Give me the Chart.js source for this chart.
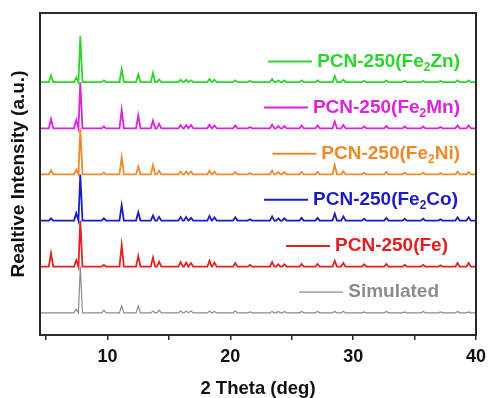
<!DOCTYPE html>
<html>
<head>
<meta charset="utf-8">
<script src="https://cdn.jsdelivr.net/npm/chart.js@4"></script>
<style>
  html, body { margin: 0; padding: 0; background: #fff; }
  #wrap { width: 488px; height: 398px; }
</style>
</head>
<body>
<div id="wrap"><canvas id="xrd"></canvas></div>
<script>
// Peak positions (2 theta, deg) shared by all patterns
const twoTheta = [5.4, 7.45, 7.78, 9.7, 11.15, 12.5, 13.7, 14.2, 15.95, 16.4, 16.8, 18.3, 18.7, 20.4, 21.6,
                  23.4, 23.9, 24.4, 25.8, 27.1, 28.5, 29.2, 30.9, 32.7, 34.2, 35.7, 37.1, 38.5, 39.4];

// Peak heights (main peak = 100)
const simulated = [0, 8, 100, 6, 15, 15, 4, 6, 4, 4, 4, 4, 3, 4, 2, 3, 3, 3, 3, 3, 3, 3, 2, 3, 2, 3, 2, 3, 2];
const fe   = [29, 14, 100, 4, 47, 23, 20, 11, 10, 9, 8, 13, 9, 8, 4, 10, 5, 5, 6, 6, 13, 8, 5, 6, 4, 4, 3, 8, 8];
const fe2Co = [5, 16, 100, 5, 33, 18, 11, 8, 8, 8, 6, 10, 7, 7, 3, 9, 5, 5, 6, 6, 15, 9, 4, 6, 4, 4, 3, 7, 7];
const fe2Ni = [9, 10, 100, 4, 37, 17, 20, 8, 6, 6, 6, 8, 6, 5, 3, 8, 5, 5, 5, 5, 20, 7, 4, 5, 4, 4, 3, 6, 5];
const fe2Mn = [20, 18, 100, 4, 40, 28, 17, 10, 7, 7, 7, 8, 6, 6, 3, 8, 5, 5, 6, 6, 15, 7, 4, 5, 4, 4, 3, 6, 6];
const fe2Zn = [15, 10, 100, 4, 28, 17, 20, 6, 5, 5, 4, 7, 5, 4, 3, 7, 4, 4, 4, 4, 14, 5, 3, 4, 3, 3, 3, 4, 4];

const seriesLabels = ['Simulated', 'PCN-250(Fe)', 'PCN-250(Fe₂Co)', 'PCN-250(Fe₂Ni)', 'PCN-250(Fe₂Mn)', 'PCN-250(Fe₂Zn)'];
const seriesValues = [simulated, fe, fe2Co, fe2Ni, fe2Mn, fe2Zn];
const offsets = [0, 100, 200, 300, 400, 500];
const xTicks = [10, 20, 30, 40];

const colors = ['#8c8c8c', '#e3201f', '#1c1cc6', '#f08a28', '#dc22dc', '#2bd52b'];
const lineWidths = [1.2, 1.8, 1.8, 1.8, 1.8, 1.8];
const legendShift = [21, 12, 2, 0, 0, 0];
const FONT = "'Liberation Sans', Arial, sans-serif";
const X_MIN = 4.5, X_MAX = 40, HALF = 0.18;

// Build each pattern as narrow peaks on a flat baseline
function buildPattern(heights, off) {
    const pts = [{ x: X_MIN, y: off }];
    twoTheta.forEach((p, i) => {
        if (!heights[i]) return;
        pts.push({ x: p - HALF, y: off });
        pts.push({ x: p, y: off + heights[i] });
        pts.push({ x: p + HALF, y: off });
    });
    pts.push({ x: X_MAX, y: off });
    return pts;
}

const datasets = seriesValues.map((vals, i) => ({
    label: seriesLabels[i],
    data: buildPattern(vals, offsets[i]),
    borderColor: colors[i],
    borderWidth: lineWidths[i],
    pointRadius: 0,
    tension: 0,
    fill: false,
}));

// Labels drawn next to each trace, with subscripted 2
const traceLabels = {
    id: 'traceLabels',
    afterDatasetsDraw(chart) {
        const { ctx, chartArea, scales } = chart;
        ctx.save();
        seriesLabels.forEach((label, i) => {
            const y = scales.y.getPixelForValue(offsets[i] + 45);
            const right = chartArea.right - 16 - legendShift[i];
            const parts = label.split('₂');
            const mainFont = 'bold 19px ' + FONT;
            const subFont = 'bold 12px ' + FONT;
            let total = 0;
            parts.forEach((p, k) => {
                ctx.font = mainFont;
                total += ctx.measureText(p).width;
                if (k < parts.length - 1) {
                    ctx.font = subFont;
                    total += ctx.measureText('2').width;
                }
            });
            let x = right - total;
            // line sample
            ctx.strokeStyle = colors[i];
            ctx.lineWidth = i === 0 ? 1.2 : 2;
            ctx.beginPath();
            ctx.moveTo(x - 49, y);
            ctx.lineTo(x - 5, y);
            ctx.stroke();
            ctx.fillStyle = colors[i];
            ctx.textBaseline = 'middle';
            ctx.textAlign = 'left';
            parts.forEach((p, k) => {
                ctx.font = mainFont;
                ctx.fillText(p, x, y);
                x += ctx.measureText(p).width;
                if (k < parts.length - 1) {
                    ctx.font = subFont;
                    ctx.fillText('2', x, y + 6);
                    x += ctx.measureText('2').width;
                }
            });
        });
        ctx.restore();
    }
};

// Box around the plot
const frame = {
    id: 'frame',
    afterDraw(chart) {
        const { ctx, chartArea } = chart;
        ctx.save();
        ctx.strokeStyle = '#2a2a2a';
        ctx.lineWidth = 2;
        ctx.strokeRect(chartArea.left, chartArea.top, chartArea.right - chartArea.left, chartArea.bottom - chartArea.top);
        ctx.restore();
    }
};

new Chart(document.getElementById('xrd'), {
    type: 'line',
    data: { datasets },
    plugins: [traceLabels, frame],
    options: {
        responsive: true,
        maintainAspectRatio: false,
        animation: false,
        layout: { padding: { top: 13, right: 12, left: 0, bottom: 0 } },
        plugins: {
            legend: { display: false },
            tooltip: { enabled: false },
        },
        scales: {
            x: {
                type: 'linear',
                min: X_MIN,
                max: X_MAX,
                afterFit: (s) => { s.height = 63; s.paddingLeft = 0; s.paddingRight = 8; },
                border: { display: false },
                grid: {
                    drawOnChartArea: false,
                    drawTicks: true,
                    tickLength: 5,
                    color: '#2a2a2a',
                    lineWidth: 1.5,
                },
                ticks: {
                    stepSize: 5,
                    includeBounds: false,
                    autoSkip: false,
                    maxRotation: 0,
                    padding: 6,
                    color: '#111',
                    font: { family: FONT, size: 18, weight: 'bold' },
                    callback: (v) => xTicks.includes(v) ? String(v) : '',
                },
                title: {
                    display: true,
                    text: '2 Theta (deg)',
                    color: '#111',
                    font: { family: FONT, size: 18.5, weight: 'bold', lineHeight: 1 },
                    padding: { top: 0, bottom: 0 },
                },
            },
            y: {
                min: -48,
                max: 650,
                afterFit: (s) => { s.width = 40; },
                border: { display: false },
                grid: { display: false },
                ticks: { display: false },
                title: {
                    display: true,
                    text: 'Realtive Intensity (a.u.)',
                    color: '#111',
                    font: { family: FONT, size: 19, weight: 'bold', lineHeight: 1.2 },
                    padding: { top: 7, bottom: 0 },
                },
            },
        },
    },
});
</script>
</body>
</html>
